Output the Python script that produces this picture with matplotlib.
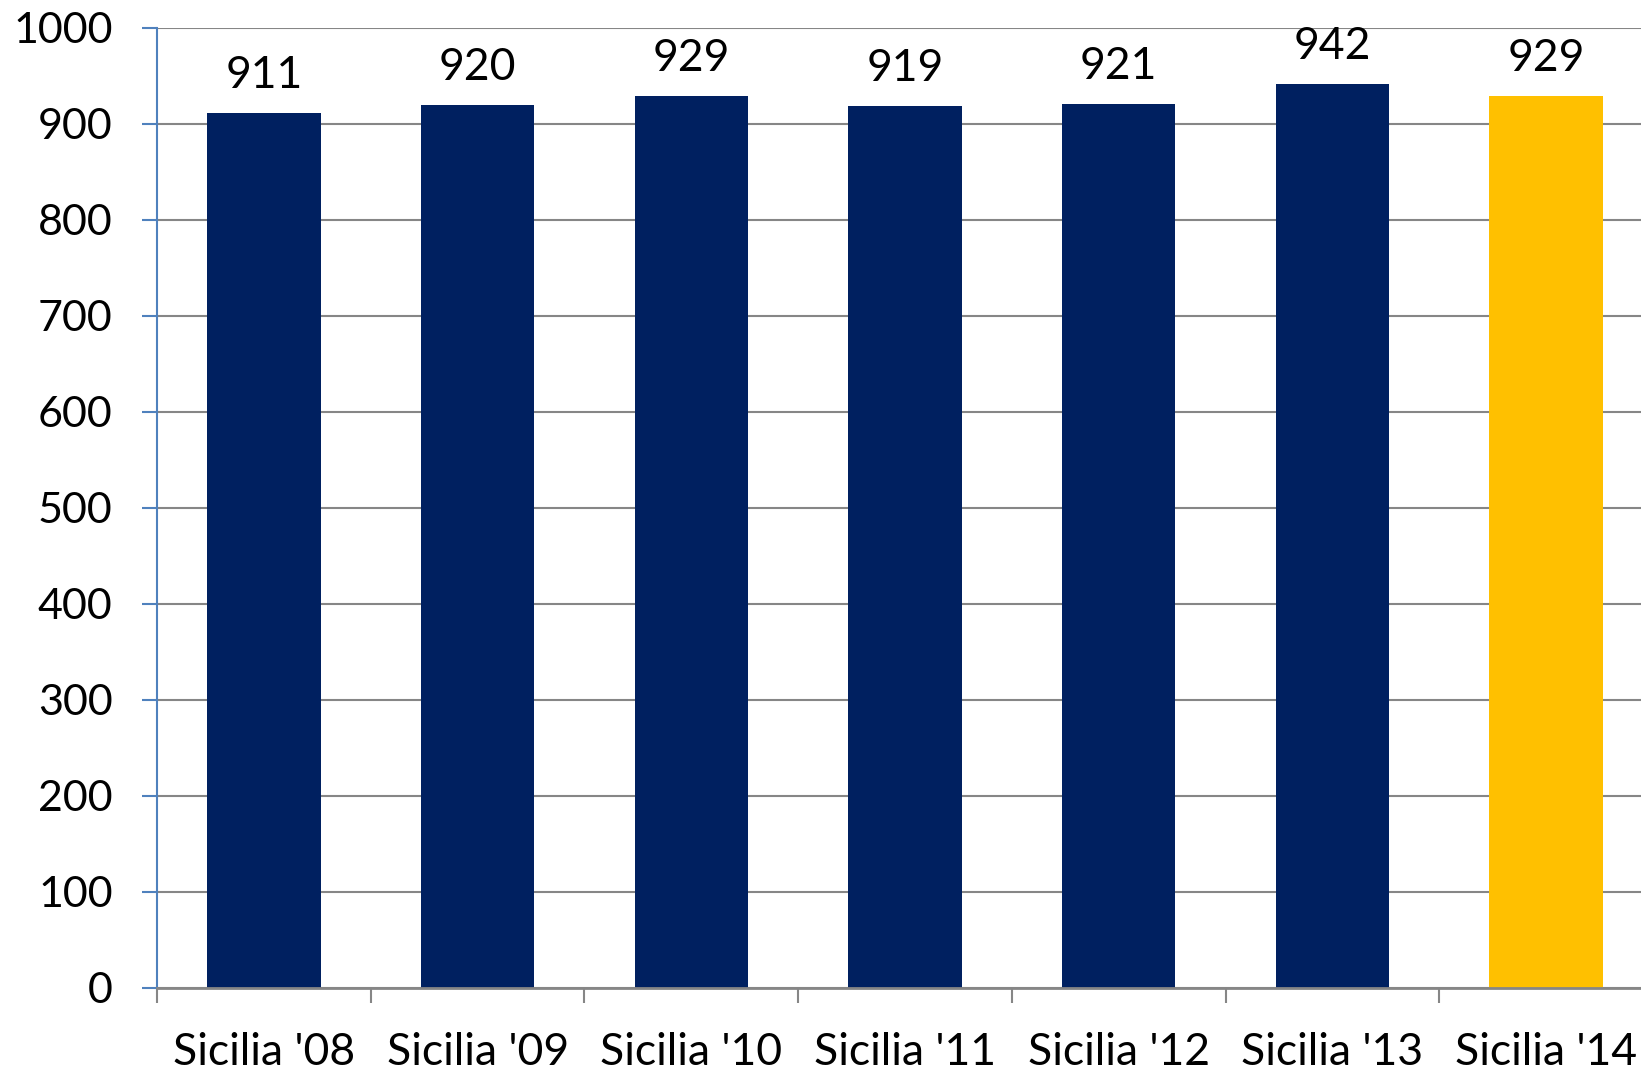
import matplotlib.pyplot as plt
import numpy as np

plt.rcParams['font.family'] = ['Lato', 'DejaVu Sans']

# chart data
categories = ["Sicilia '08", "Sicilia '09", "Sicilia '10", "Sicilia '11",
              "Sicilia '12", "Sicilia '13", "Sicilia '14"]
values = [911, 920, 929, 919, 921, 942, 929]
bar_colors = ["#002060"] * 6 + ["#FFC000"]

fig = plt.figure(figsize=(16.41, 10.72), dpi=100)
# plot area runs a little past the right edge, as in the original
ax = fig.add_axes([0.0957, 0.0784, 0.9116, 0.8955])

x = np.arange(len(categories))
ax.bar(x, values, width=0.53, color=bar_colors, zorder=3)

for xi, v in zip(x, values):
    ax.annotate(str(v), (xi, v), xytext=(0, 18), textcoords="offset points",
                ha="center", va="baseline", fontsize=32)

ax.set_xlim(-0.5, len(categories) - 0.5)
ax.set_ylim(0, 1000)
ax.set_yticks(range(0, 1001, 100))
ax.yaxis.grid(True, color="#868686", linewidth=1.5, zorder=0)

# category boundaries carry the tick marks, centres carry the labels
ax.set_xticks(np.arange(len(categories) + 1) - 0.5)
ax.set_xticklabels([])
ax.set_xticks(x, minor=True)
ax.set_xticklabels(categories, minor=True, fontsize=32)
ax.tick_params(axis="x", which="major", length=11, width=1.5, color="#868686")
ax.tick_params(axis="x", which="minor", length=0, pad=32)
ax.tick_params(axis="y", length=11, width=1.5, color="#4F81BD", pad=21, labelsize=31)

for s in ["top", "right"]:
    ax.spines[s].set_visible(False)
ax.spines["left"].set_color("#4F81BD")
ax.spines["left"].set_linewidth(1.5)
ax.spines["bottom"].set_color("#868686")
ax.spines["bottom"].set_linewidth(2)
ax.spines["bottom"].set_zorder(4)

fig.savefig("out.png", dpi=100)
